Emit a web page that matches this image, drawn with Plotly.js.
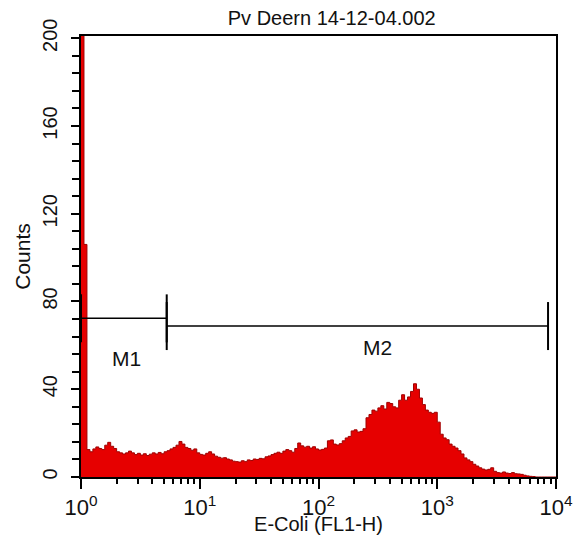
<!DOCTYPE html>
<html><head><meta charset="utf-8">
<script src="https://cdn.plot.ly/plotly-3.0.1.min.js"></script>
<style>html,body{margin:0;padding:0;background:#fff}#chart{width:582px;height:535px}</style>
</head><body><div id="chart"></div>
<script>
const chartTitle = 'Pv Deern 14-12-04.002';
const xTitle = 'E-Coli (FL1-H)';
const yTitle = 'Counts';
const logMin = 0, logMax = 4;
const counts = [
  260, 106, 12.5, 11.5, 12.8, 13.7, 13, 12.5, 14.5, 15.8,
  14, 13, 11.5, 11, 10.5, 11, 11.8, 11, 10.2, 10.8,
  10, 10.6, 9.8, 10.4, 11, 10.5, 11.2, 10.6, 11.5, 12,
  12.8, 13.5, 14.5, 16.2, 15, 13.5, 13, 12.2, 12.8, 11,
  10.3, 10, 10.8, 11.5, 10.5, 9.5, 9, 8.6, 8.8, 8.2,
  7.8, 7.2, 7, 6.8, 7.4, 7, 7.8, 7.5, 8.2, 8,
  8.5, 8.3, 9.2, 9.6, 10.2, 10.8, 11.3, 10.8, 11.8, 12.5,
  12, 11.3, 13, 15.5, 14.2, 13.6, 14, 13.2, 13.8, 12.8,
  12.3, 12.6, 13.2, 16.5, 16.9, 15, 14.6, 15.2, 16.5, 17.8,
  18.5, 21, 21.5, 20.5, 20.8, 22, 27, 28.5, 30.5, 30,
  31.5, 32.5, 31, 34, 33.5, 32, 31.5, 35, 37.5, 35,
  36.5, 39, 42.5, 40, 36, 33, 30.5, 29.5, 29, 29.5,
  25, 19.5, 17.8, 17, 15, 14, 13.2, 12, 10.5, 8.7,
  7.8, 7, 5.8, 5, 4.2, 3.6, 3.2, 3.5, 4.2, 2.6,
  2, 1.8, 2.3, 1.8, 1.6, 2, 1.5, 1.4, 1.2, 0.8,
  0.5, 0.3, 0.2, 0, 0, 0, 0, 0, 0, 0
];
const xTickVals = [1, 10, 100, 1000, 10000];
const xTickText = ['10<sup>0</sup>', '10<sup>1</sup>', '10<sup>2</sup>', '10<sup>3</sup>', '10<sup>4</sup>'];
const xMinorMultipliers = [2, 3, 4, 5, 6, 7, 8, 9];
const yTickVals = [0, 40, 80, 120, 160, 200];
const yRange = [0, 201];
const markerNames = ['M1', 'M2'];
const markerStart = [1, 5.27];
const markerEnd = [5.27, 8570];
const markerLevel = [72.3, 68.8];
const markerLabelX = [2.4, 316];
const markerLabelY = [54, 59];

// histogram channel edges (evenly spaced in log)
const step = (logMax - logMin) / counts.length;
const hx = [], hy = [];
counts.forEach((c, i) => { hx.push(Math.pow(10, logMin + i * step)); hy.push(c); });
hx.push(Math.pow(10, logMax)); hy.push(counts[counts.length - 1]);

const minorVals = [];
xTickVals.slice(0, -1).forEach(d => xMinorMultipliers.forEach(m => minorVals.push(d * m)));

const FONT = 'Liberation Sans, Arial, sans-serif';

const traces = [{
  type: 'scatter', mode: 'lines', x: hx, y: hy,
  line: {shape: 'hv', color: '#a00000', width: 1},
  fill: 'tozeroy', fillcolor: '#e60000', hoverinfo: 'skip'
}];

const shapes = [], annotations = [];
markerNames.forEach((name, i) => {
  shapes.push({type: 'line', xref: 'x', yref: 'y', x0: markerStart[i], x1: markerEnd[i],
    y0: markerLevel[i], y1: markerLevel[i], line: {color: '#000', width: 1.5}});
  [markerStart[i], markerEnd[i]].forEach(xv => shapes.push({type: 'line', xref: 'x', yref: 'y',
    ysizemode: 'pixel', yanchor: markerLevel[i], x0: xv, x1: xv, y0: -24, y1: 24,
    line: {color: '#000', width: 2}}));
  annotations.push({xref: 'x', yref: 'y', x: Math.log10(markerLabelX[i]), y: markerLabelY[i],
    text: name, showarrow: false, font: {family: FONT, size: 21, color: '#111'}});
});

const layout = {
  width: 582, height: 535,
  margin: {l: 81, r: 26, t: 36, b: 58},
  paper_bgcolor: '#fff', plot_bgcolor: '#fff',
  showlegend: false,
  font: {family: FONT, color: '#111'},
  title: {text: chartTitle, font: {family: FONT, size: 20, color: '#111'},
    xref: 'container', x: 0.57, xanchor: 'center', yref: 'container', y: 0.966, yanchor: 'middle'},
  xaxis: {type: 'log', range: [logMin, logMax], tickmode: 'array', tickvals: xTickVals, ticktext: xTickText,
    ticks: 'outside', ticklen: 10, tickwidth: 2, tickcolor: '#000',
    minor: {tickmode: 'array', tickvals: minorVals, ticks: 'outside', ticklen: 5, tickwidth: 2, tickcolor: '#000'},
    showline: true, linecolor: '#000', linewidth: 2, mirror: true,
    showgrid: false, zeroline: false,
    tickfont: {family: FONT, size: 22, color: '#111'},
    title: {text: xTitle, font: {family: FONT, size: 20, color: '#111'}, standoff: 0}},
  yaxis: {range: yRange, tickmode: 'array', tickvals: yTickVals, tickangle: -90,
    ticks: 'outside', ticklen: 8, tickwidth: 2, tickcolor: '#000',
    minor: {dtick: 8, ticks: 'outside', ticklen: 7, tickwidth: 2, tickcolor: '#000'},
    showline: true, linecolor: '#000', linewidth: 2, mirror: true,
    showgrid: false, zeroline: false, ticklabelstandoff: 6,
    tickfont: {family: FONT, size: 20, color: '#111'},
    title: {text: yTitle, font: {family: FONT, size: 21, color: '#111'}, standoff: 3}},
  shapes: shapes, annotations: annotations
};

Plotly.newPlot('chart', traces, layout, {staticPlot: true, displayModeBar: false});
</script>
</body></html>
